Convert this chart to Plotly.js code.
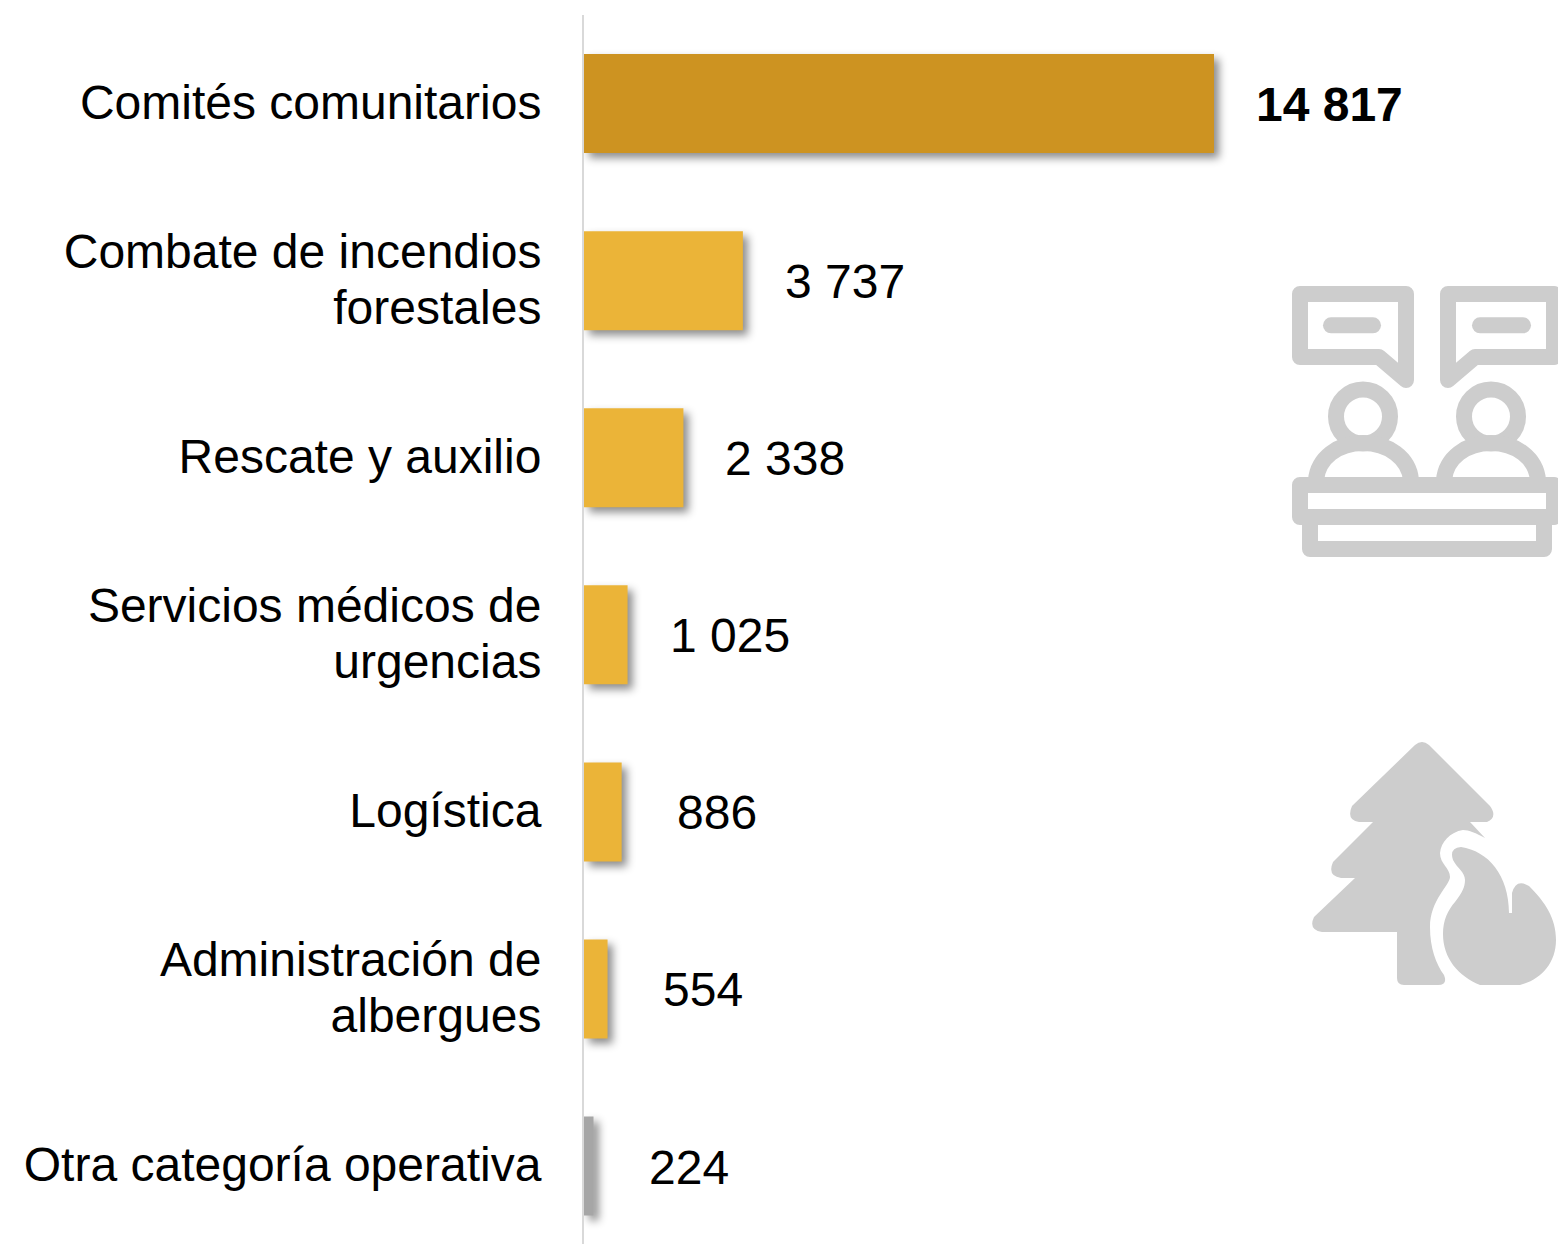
<!DOCTYPE html>
<html>
<head>
<meta charset="utf-8">
<script src="https://cdn.plot.ly/plotly-3.0.1.min.js"></script>
<style>html,body{margin:0;padding:0;background:#fff;overflow:hidden}#chart{width:1558px;height:1244px}</style>
</head>
<body>
<div id="chart"></div>
<script>
const categories = ["Comités comunitarios","Combate de incendios<br>forestales","Rescate y auxilio","Servicios médicos de<br>urgencias","Logística","Administración de<br>albergues","Otra categoría operativa"];
const values = [14817,3737,2338,1025,886,554,224];
const valueLabels = ["14 817","3 737","2 338","1 025","886","554","224"];
const barColors = ["#CD9321","#EBB438","#EBB438","#EBB438","#EBB438","#EBB438","#A6A6A6"];
const FONT = '"Liberation Sans", Arial, sans-serif';
const FS = 48, LINE = 56;

const iconSvg = `<svg xmlns="http://www.w3.org/2000/svg" width="1558" height="1244" viewBox="0 0 1558 1244">
<g fill="none" stroke="#CDCDCD" stroke-width="16" stroke-linejoin="round" stroke-linecap="round">
<path d="M1300,294H1406V380L1379,357H1300Z"/><path d="M1331,325.3H1373"/>
<path d="M1554,294H1448V380L1475,357H1554Z"/><path d="M1480,325.3H1523"/>
<circle cx="1363" cy="416.5" r="27"/><circle cx="1491" cy="416.5" r="27"/>
<path d="M1316,480C1318,458 1338,443 1363,443C1388,443 1409,458 1411,480"/>
<path d="M1444,480C1446,458 1466,443 1491,443C1516,443 1536,458 1538,480"/>
<path d="M1300,485H1554V517H1300Z"/><path d="M1310,517V549H1544V517"/>
</g>
<g fill="#CDCDCD">
<path d="M1415,745Q1422,739 1429,745L1490,806Q1498,817 1487,822H1470L1485,838C1476,833 1469,830 1463,830C1450,832 1441,842 1440,853C1440,864 1450,868 1450,877C1450,885 1430,900 1430,927C1430,948 1436,964 1444,975Q1448,985 1438,985H1404Q1397,985 1397,978V932H1322Q1308,930 1314,917L1355,878H1341Q1327,876 1333,862L1373,822H1359Q1346,820 1352,806Z"/>
<path d="M1453,860Q1449,848 1461,847C1488,851 1509,875 1509,913L1512,913V893Q1516,878 1529,886C1545,902 1556,918 1556,940C1556,964 1540,980 1520,985H1480C1458,976 1443,958 1443,934C1443,920 1448,910 1455,902C1462,893 1465,887 1465,880C1465,872 1457,868 1453,860Z"/>
</g></svg>`;

const plotW = 974, plotH = 1229, pxPerUnit = 630 / 14817;
const annotations = values.map((v, i) => ({
  x: v, y: i, xref: 'x', yref: 'y', text: valueLabels[i], showarrow: false,
  xanchor: 'left', yanchor: 'middle', xshift: v < 1000 ? 53 : 40, yshift: -1,
  font: {family: FONT, size: FS, color: '#000'}
}));
annotations[0].text = '<b>' + valueLabels[0] + '</b>';

Plotly.newPlot('chart', [{
  type: 'bar', orientation: 'h', x: values, y: values.map((_, i) => i), width: 0.559,
  marker: {color: barColors, line: {width: 0}}, hoverinfo: 'skip'
}], {
  width: 1558, height: 1244, margin: {l: 584, r: 0, t: 15, b: 0},
  paper_bgcolor: '#fff', plot_bgcolor: '#fff', showlegend: false,
  font: {family: FONT, size: FS, color: '#000'},
  xaxis: {range: [0, plotW / pxPerUnit], visible: false, fixedrange: true},
  yaxis: {range: [6.44, -0.5], tickmode: 'array', tickvals: values.map((_, i) => i), ticktext: categories,
    showline: true, linecolor: '#D9D9D9', linewidth: 2, showgrid: false, zeroline: false, ticks: '',
    ticklabelstandoff: 31, tickfont: {family: FONT, size: FS, color: '#000'}, automargin: false, fixedrange: true},
  annotations,
  images: [{source: 'data:image/svg+xml;utf8,' + encodeURIComponent(iconSvg), xref: 'paper', yref: 'paper',
    x: -584 / plotW, y: 1244 / plotH, sizex: 1558 / plotW, sizey: 1244 / plotH,
    xanchor: 'left', yanchor: 'top', sizing: 'stretch', layer: 'above'}]
}, {displayModeBar: false, staticPlot: true}).then(gd => {
  gd.querySelectorAll('.barlayer .point path').forEach(p => {
    p.style.filter = 'drop-shadow(5px 5px 4px rgba(0,0,0,0.45))';
  });
  gd.querySelectorAll('.ytick text').forEach(t => {
    const lines = t.querySelectorAll('tspan.line');
    if (lines.length > 1) {
      lines.forEach((l, n) => { if (n) l.setAttribute('dy', (n * LINE / FS) + 'em'); });
    }
    const shift = lines.length > 1 ? 1.5 : -1.5;
    const tr = t.getAttribute('transform') || '';
    t.setAttribute('transform', 'translate(0,' + shift + ') ' + tr);
  });
});
</script>
</body>
</html>
